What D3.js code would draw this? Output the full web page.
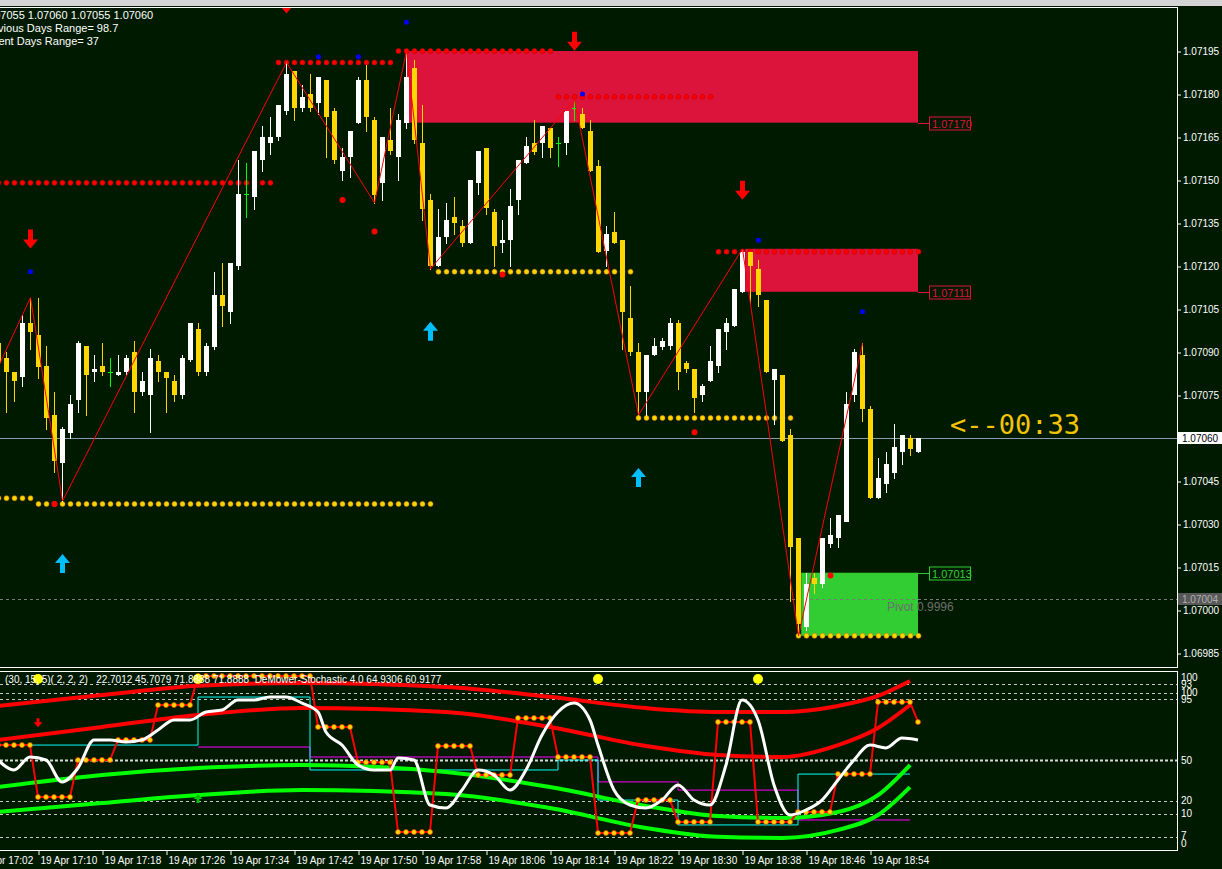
<!DOCTYPE html>
<html>
<head>
<meta charset="utf-8">
<script src="https://cdn.jsdelivr.net/npm/d3@7/dist/d3.min.js"></script>
<style>
html, body { margin: 0; padding: 0; background: #001a00; overflow: hidden; }
svg { display: block; font-family: "Liberation Sans", Arial, sans-serif; }
</style>
</head>
<body>
<svg id="chart" width="1222" height="869"></svg>
<script>
// M1 candles, k = 0 is 19 Apr 17:05
const opens = [1.07093,1.07088,1.07083,1.07081,1.07100,1.07096,1.07085,1.07068,1.07051,1.07062,1.07073,1.07092,1.07083,1.07085,1.07083,1.07082,1.07083,1.07090,1.07076,1.07075,1.07087,1.07083,1.07080,1.07075,1.07087,1.07098,1.07083,1.07092,1.07110,1.07104,1.07120,1.07145,1.07144,1.07157,1.07163,1.07165,1.07174,1.07188,1.07175,1.07180,1.07177,1.07185,1.07174,1.07153,1.07158,1.07170,1.07185,1.07171,1.07149,1.07164,1.07158,1.07170,1.07189,1.07163,1.07143,1.07120,1.07130,1.07137,1.07134,1.07128,1.07149,1.07161,1.07139,1.07128,1.07129,1.07143,1.07156,1.07163,1.07163,1.07168,1.07163,1.07163,1.07175,1.07173,1.07167,1.07155,1.07125,1.07132,1.07129,1.07102,1.07090,1.07076,1.07089,1.07092,1.07092,1.07100,1.07086,1.07084,1.07075,1.07080,1.07085,1.07097,1.07099,1.07111,1.07125,1.07119,1.07108,1.07080,1.07082,1.07061,1.07025,1.06994,1.07011,1.07009,1.07023,1.07025,1.07031,1.07075,1.07089,1.07070,1.07039,1.07044,1.07048,1.07055,1.07060,1.07055];
const highs = [1.07094,1.07090,1.07083,1.07103,1.07109,1.07109,1.07092,1.07076,1.07064,1.07075,1.07094,1.07092,1.07089,1.07093,1.07088,1.07089,1.07089,1.07094,1.07083,1.07091,1.07089,1.07083,1.07082,1.07089,1.07100,1.07100,1.07093,1.07118,1.07121,1.07121,1.07157,1.07156,1.07160,1.07169,1.07172,1.07176,1.07191,1.07188,1.07183,1.07187,1.07186,1.07185,1.07175,1.07161,1.07167,1.07186,1.07190,1.07172,1.07165,1.07175,1.07173,1.07195,1.07192,1.07176,1.07145,1.07140,1.07142,1.07144,1.07136,1.07150,1.07160,1.07161,1.07140,1.07136,1.07147,1.07157,1.07165,1.07171,1.07169,1.07168,1.07165,1.07174,1.07178,1.07175,1.07171,1.07157,1.07134,1.07139,1.07129,1.07113,1.07093,1.07089,1.07095,1.07095,1.07102,1.07101,1.07087,1.07084,1.07079,1.07092,1.07098,1.07102,1.07112,1.07126,1.07125,1.07122,1.07108,1.07084,1.07082,1.07063,1.07025,1.07013,1.07013,1.07025,1.07032,1.07033,1.07076,1.07091,1.07093,1.07071,1.07053,1.07055,1.07065,1.07061,1.07061,1.07060];
const lows = [1.07085,1.07069,1.07073,1.07078,1.07091,1.07081,1.07063,1.07048,1.07038,1.07060,1.07069,1.07068,1.07080,1.07082,1.07078,1.07082,1.07082,1.07069,1.07075,1.07062,1.07080,1.07069,1.07073,1.07074,1.07087,1.07082,1.07082,1.07091,1.07099,1.07100,1.07119,1.07137,1.07140,1.07153,1.07159,1.07164,1.07173,1.07171,1.07174,1.07174,1.07173,1.07158,1.07156,1.07150,1.07151,1.07170,1.07167,1.07142,1.07143,1.07159,1.07150,1.07168,1.07163,1.07136,1.07119,1.07120,1.07128,1.07131,1.07127,1.07128,1.07145,1.07138,1.07120,1.07125,1.07120,1.07138,1.07156,1.07159,1.07158,1.07158,1.07155,1.07159,1.07171,1.07168,1.07153,1.07125,1.07120,1.07128,1.07091,1.07089,1.07068,1.07068,1.07089,1.07091,1.07091,1.07077,1.07083,1.07069,1.07073,1.07080,1.07083,1.07091,1.07099,1.07111,1.07107,1.07106,1.07083,1.07065,1.07059,1.07003,1.06991,1.06993,1.07006,1.07008,1.07022,1.07022,1.07031,1.07073,1.07066,1.07039,1.07039,1.07041,1.07046,1.07051,1.07054,1.07055];
const closes = [1.07086,1.07083,1.07080,1.07100,1.07097,1.07085,1.07067,1.07052,1.07063,1.07072,1.07093,1.07082,1.07084,1.07083,1.07083,1.07083,1.07088,1.07076,1.07080,1.07088,1.07083,1.07081,1.07075,1.07088,1.07100,1.07083,1.07092,1.07110,1.07106,1.07121,1.07145,1.07145,1.07160,1.07165,1.07165,1.07176,1.07187,1.07175,1.07179,1.07175,1.07186,1.07172,1.07157,1.07158,1.07167,1.07185,1.07172,1.07145,1.07165,1.07160,1.07171,1.07186,1.07164,1.07140,1.07120,1.07130,1.07136,1.07135,1.07128,1.07150,1.07160,1.07140,1.07127,1.07129,1.07141,1.07157,1.07162,1.07160,1.07169,1.07161,1.07163,1.07174,1.07175,1.07168,1.07153,1.07125,1.07131,1.07128,1.07104,1.07090,1.07076,1.07089,1.07092,1.07094,1.07100,1.07083,1.07084,1.07074,1.07078,1.07087,1.07098,1.07100,1.07112,1.07125,1.07120,1.07110,1.07083,1.07084,1.07059,1.07022,1.06995,1.07009,1.07009,1.07025,1.07026,1.07033,1.07072,1.07090,1.07070,1.07039,1.07046,1.07051,1.07057,1.07061,1.07056,1.07060];

const priceTicks = [1.06985,1.07000,1.07015,1.07030,1.07045,1.07060,1.07075,1.07090,1.07105,1.07120,1.07135,1.07150,1.07165,1.07180,1.07195];
const timeTicks = [-3,5,13,21,29,37,45,53,61,69,77,85,93,101,109];

// zigzag turning points [k, price]
const zigzag = [[0,1.07085],[4,1.07109],[8,1.07038],[36,1.07191],[47,1.07142],[51,1.07195],[54,1.07119],[72,1.07178],[80,1.07068],[93,1.07126],[100,1.06991],[108,1.07093]];
const downArrows = [4,36,72,93];
const upArrows = [8,54,80];
const blueDots = [[4,1.07118],[40,1.07193],[45,1.07193],[51,1.07205],[73,1.07180],[95,1.07129],[108,1.07104]];
const redDots = [[7,1.07037],[43,1.07143],[47,1.07132],[63,1.07117],[87,1.07062],[104,1.07012]];
// dotted levels [kFrom, kTo, price]
const resistLevels = [[0,34,1.07149],[35,49,1.07191],[50,69,1.07195],[70,89,1.07179],[90,115,1.07125]];
const supportLevels = [[0,4,1.07039],[5,54,1.07037],[55,79,1.07118],[80,99,1.07067],[100,115,1.06991]];
// supply / demand boxes [kFrom, kTo, top, bottom, labelPrice]
const supplyZones = [[51,115,1.07195,1.07170,1.07170],[93.4,115,1.07126,1.07111,1.07111]];
const demandZones = [[100.4,115,1.07013,1.06991,1.07013]];
const lastPrice = 1.07060;
const pivotPrice = 1.07004;

// indicator window
const bandKs = [0,13,25,38,56,69,81,90,98,105,110,114];
const redUpper = [80.7,86.8,92.0,93.6,91.4,85.8,79.5,77.3,77.3,80.7,86.3,94.7];
const redLower = [61.6,68.9,75.6,79.5,77.3,68.9,58.2,53.1,52.0,58.7,68.3,81.2];
const greenUpper = [35.1,41.9,45.8,47.5,43.6,35.1,24.5,18.8,17.7,21.1,30.6,47.5];
const greenLower = [21.1,26.1,30.6,33.4,31.2,23.3,12.1,7.1,6.5,11.0,19.4,35.1];
const stochKs = [0,2,4,6,8,10,12,14,16,18,20,22,24,26,28,30,32,34,36,38,40,41,43,45,47,49,50,52,54,56,58,60,62,64,66,68,70,72,74,75,77,79,81,83,85,87,89,91,93,95,97,99,101,103,105,107,109,111,113,115];
const stoch = [50.3,44.7,52.0,50.3,37.9,45.8,61.6,61.6,60.4,61.6,67.2,72.8,72.8,77.3,78.4,84.0,84.0,85.7,85.7,82.3,77.3,66.0,58.7,47.5,44.7,44.7,51.4,50.3,25.0,23.3,33.4,44.7,41.9,33.4,44.7,64.4,77.3,82.3,72.8,58.7,33.4,25.0,23.3,27.8,36.3,27.8,25.0,47.5,84.0,72.8,36.3,19.4,22.2,27.8,39.1,50.3,58.7,57.1,62.7,61.6];
// step signal [kFrom, kTo, value]
const stepSignal = [[0,4,58.7],[5,9,29.5],[10,14,50.3],[15,19,61.6],[20,24,81.2],[25,39,97.5],[40,44,68.9],[45,49,49.0],[50,54,9.8],[55,59,58.2],[60,64,41.9],[65,69,73.9],[70,74,52.0],[75,79,9.3],[80,84,27.8],[85,89,15.5],[90,94,71.7],[95,99,15.5],[100,104,21.1],[105,109,42.4],[110,114,82.9],[115,115,71.7]];
const cyanSteps = [[0,25,58.7],[25,39,85.7],[39,70,44.7],[70,75,50.3],[75,85,27.8],[85,100,13.8],[100,114,42.4]];
const magentaSteps = [[25,39,57.6],[39,75,52.0],[75,85,38.0],[85,100,33.4],[100,114,16.6]];
const signalDots = [5,25,75,95];
const sellSignals = [[5,71]];
const buySignals = [[25,29]];
const levelsA = [7,93];
const levelsB = [10,20,95,100];
const midLevel = 50;

const svg = d3.select("#chart");
const W = 1222, H = 869, plotRight = 1177;
const mainTop = 7, mainBottom = 667, indTop = 671, indBottom = 850;

svg.append("rect").attr("width", W).attr("height", H).attr("fill", "#001a00");
svg.append("rect").attr("width", W).attr("height", 6).attr("fill", "#d4d4d4");

const x = d3.scaleLinear().domain([0, 115]).range([-2, 918]);
const y = d3.scaleLinear().domain([1.06985, 1.07195]).range([653, 51]);
const yInd = d3.scaleLinear().domain([0, 100]).range([849.5, 671.6]);
const yLvl = d3.scaleLinear().domain([50, 100]).range([760, 692.5]);

const defs = svg.append("defs");
defs.append("clipPath").attr("id", "mainClip").append("rect")
    .attr("x", 0).attr("y", mainTop).attr("width", plotRight).attr("height", mainBottom - mainTop);
defs.append("clipPath").attr("id", "indClip").append("rect")
    .attr("x", 0).attr("y", indTop).attr("width", plotRight).attr("height", indBottom - indTop);

let main = svg.append("g").attr("clip-path", "url(#mainClip)");

// zones
let zones = supplyZones.map(z => ({z, color: "#dc143c", labelAt: z[3]}))
    .concat(demandZones.map(z => ({z, color: "#32cd32", labelAt: z[2]})));
main.selectAll("rect.zone").data(zones).join("rect")
    .attr("x", d => x(d.z[0]))
    .attr("width", d => x(d.z[1]) - x(d.z[0]))
    .attr("y", d => y(d.z[2]))
    .attr("height", d => y(d.z[3]) - y(d.z[2]))
    .attr("fill", d => d.color);

// pivot and last price lines
main.append("line").attr("x1", 0).attr("x2", plotRight)
    .attr("y1", Math.round(y(pivotPrice)) + 0.5).attr("y2", Math.round(y(pivotPrice)) + 0.5)
    .attr("stroke", "#7a7a7a").attr("stroke-dasharray", "3,3");
main.append("text").attr("x", 887).attr("y", Math.round(y(pivotPrice)) + 12)
    .attr("fill", "#6e6e6e").attr("font-size", 12).text("Pivot  0.9996");
main.append("line").attr("x1", 0).attr("x2", plotRight)
    .attr("y1", Math.round(y(lastPrice)) + 0.5).attr("y2", Math.round(y(lastPrice)) + 0.5)
    .attr("stroke", "#8a9bb0");

// dotted levels
function dotLevel(levels, fill, stroke, cls) {
    let pts = [];
    levels.forEach(l => { for (let k = l[0]; k <= l[1]; k++) pts.push([k, l[2]]); });
    main.selectAll("circle." + cls).data(pts).join("circle")
        .attr("cx", d => x(d[0]) + 0.5).attr("cy", d => y(d[1]))
        .attr("r", 2.5).attr("fill", fill).attr("stroke", stroke).attr("stroke-width", 0.6);
}
dotLevel(resistLevels, "#ff0000", "#c00000", "res");
dotLevel(supportLevels, "#ffd700", "#d08000", "sup");

// candles
const candles = opens.map((o, k) => ({k, o, h: highs[k], l: lows[k], c: closes[k]}));
const colorOf = d => d.c > d.o ? "#ffffff" : (d.c < d.o ? "#ffd700" : "#00ff00");
main.selectAll("line.wick").data(candles).join("line")
    .attr("x1", d => x(d.k) + 0.5).attr("x2", d => x(d.k) + 0.5)
    .attr("y1", d => Math.round(y(d.h))).attr("y2", d => Math.round(y(d.l)) + 1)
    .attr("stroke", colorOf).attr("stroke-width", 1);
main.selectAll("rect.body").data(candles.filter(d => d.o !== d.c)).join("rect")
    .attr("x", d => x(d.k) - 2).attr("width", 5)
    .attr("y", d => Math.round(y(Math.max(d.o, d.c))))
    .attr("height", d => Math.max(1, Math.round(Math.abs(y(d.o) - y(d.c)))))
    .attr("fill", colorOf).attr("shape-rendering", "crispEdges");
main.selectAll("line.doji").data(candles.filter(d => d.o === d.c)).join("line")
    .attr("x1", d => x(d.k) - 2).attr("x2", d => x(d.k) + 3)
    .attr("y1", d => Math.round(y(d.c)) + 0.5).attr("y2", d => Math.round(y(d.c)) + 0.5)
    .attr("stroke", "#00ff00");

// zigzag
main.append("path").datum(zigzag)
    .attr("d", d3.line().x(d => x(d[0]) + 0.5).y(d => y(d[1])))
    .attr("fill", "none").attr("stroke", "#ff0000").attr("stroke-width", 1);

// markers
main.selectAll("circle.blue").data(blueDots).join("circle")
    .attr("cx", d => x(d[0]) + 0.5).attr("cy", d => y(d[1])).attr("r", 2.5).attr("fill", "#0000ff");
main.selectAll("circle.red").data(redDots).join("circle")
    .attr("cx", d => x(d[0]) + 0.5).attr("cy", d => y(d[1])).attr("r", 3).attr("fill", "#ff0000");

const arrowDown = "M-2.5,-19 L2.5,-19 L2.5,-9 L7.5,-9 L0,0 L-7.5,-9 L-2.5,-9 Z";
main.selectAll("path.dn").data(downArrows).join("path")
    .attr("d", arrowDown)
    .attr("transform", k => `translate(${x(k) + 0.5},${y(highs[k]) - 49})`)
    .attr("fill", "#ff0000");
main.selectAll("path.up").data(upArrows).join("path")
    .attr("d", arrowDown)
    .attr("transform", k => `translate(${x(k) + 0.5},${y(lows[k]) + 53}) scale(1,-1)`)
    .attr("fill", "#00bfff");

// header texts
const info = main.append("g").attr("fill", "#ffffff").attr("font-size", 11);
info.append("text").attr("x", -15).attr("y", 19).text("1.07055 1.07060 1.07055 1.07060");
info.append("text").attr("x", -19).attr("y", 32).text("Previous Days Range= 98.7");
info.append("text").attr("x", -23).attr("y", 45).text("Current Days Range= 37");

main.append("text").attr("x", 950).attr("y", 434)
    .attr("fill", "#f5c400").attr("font-size", 27).attr("font-family", "DejaVu Sans Mono, monospace")
    .text("<--00:33");

// frames
svg.append("rect").attr("x", -1.5).attr("y", mainTop + 0.5).attr("width", plotRight + 2)
    .attr("height", mainBottom - mainTop).attr("fill", "none").attr("stroke", "#ffffff");

// price axis
const pAxis = svg.append("g").attr("transform", `translate(${plotRight},0)`)
    .call(d3.axisRight(y).tickValues(priceTicks).tickFormat(d3.format(".5f")).tickSize(4).tickPadding(2));
pAxis.select(".domain").remove();
pAxis.selectAll("line").attr("stroke", "#ffffff").attr("transform", "translate(0,0.5)");
pAxis.selectAll("text").attr("fill", "#ffffff").attr("font-size", 10).attr("font-family", "Liberation Sans, Arial");

// price tags on the axis
function tag(price, bg, fg, border) {
    let g = svg.append("g").attr("transform", `translate(${plotRight + 1},${Math.round(y(price))})`);
    g.append("rect").attr("x", 0).attr("y", -6).attr("width", 44).attr("height", 12).attr("fill", bg)
        .attr("stroke", border || "none");
    g.append("text").attr("x", 4).attr("y", 4).attr("fill", fg).attr("font-size", 10).text(d3.format(".5f")(price));
}
tag(lastPrice, "#ffffff", "#000000");
tag(pivotPrice, "#585858", "#b0b0b0");

// zone labels
zones.forEach(d => {
    let yy = Math.round(y(d.labelAt)) + 0.5;
    svg.append("line").attr("x1", x(d.z[1])).attr("x2", 929).attr("y1", yy).attr("y2", yy).attr("stroke", d.color);
    svg.append("rect").attr("x", 929.5).attr("y", yy - 6.5).attr("width", 41).attr("height", 13)
        .attr("fill", "#001a00").attr("stroke", d.color);
    svg.append("text").attr("x", 932).attr("y", yy + 4).attr("fill", d.color).attr("font-size", 11)
        .text(d3.format(".5f")(d.z[4]));
});

// indicator window
let ind = svg.append("g").attr("clip-path", "url(#indClip)");
const lvlA = levelsA.map(v => yInd(v));
const lvlB = levelsB.map(v => yLvl(v));
ind.selectAll("line.lvl").data(lvlA.concat(lvlB)).join("line")
    .attr("x1", 0).attr("x2", plotRight)
    .attr("y1", d => Math.round(d) + 0.5).attr("y2", d => Math.round(d) + 0.5)
    .attr("stroke", "#c8c8c8").attr("stroke-dasharray", "3,3");
ind.append("line").attr("x1", 0).attr("x2", plotRight)
    .attr("y1", Math.round(yLvl(midLevel)) + 0.5).attr("y2", Math.round(yLvl(midLevel)) + 0.5)
    .attr("stroke", "#d8d8d8").attr("stroke-width", 2).attr("stroke-dasharray", "3,2");

const stepLine = steps => {
    let pts = [];
    steps.forEach(s => { pts.push([s[0], s[2]]); pts.push([s[1], s[2]]); });
    return pts;
};
const lineInd = d3.line().x(d => x(d[0])).y(d => yInd(d[1]));
ind.append("path").datum(stepLine(magentaSteps)).attr("d", lineInd)
    .attr("fill", "none").attr("stroke", "#ff00ff").attr("stroke-width", 1);
ind.append("path").datum(stepLine(cyanSteps)).attr("d", lineInd)
    .attr("fill", "none").attr("stroke", "#00ffff").attr("stroke-width", 1);

const curve = d3.line().x(d => x(d[0])).y(d => yInd(d[1])).curve(d3.curveMonotoneX);
[[redUpper, "#ff0000"], [redLower, "#ff0000"], [greenUpper, "#00ff00"], [greenLower, "#00ff00"]].forEach(s => {
    ind.append("path").datum(bandKs.map((k, i) => [k, s[0][i]])).attr("d", curve)
        .attr("fill", "none").attr("stroke", s[1]).attr("stroke-width", 4);
});

ind.append("path").datum(stepLine(stepSignal)).attr("d", lineInd)
    .attr("fill", "none").attr("stroke", "#ff0000").attr("stroke-width", 2);
let sigPts = [];
stepSignal.forEach(s => { for (let k = s[0]; k <= s[1]; k++) sigPts.push([k, s[2]]); });
ind.selectAll("circle.sig").data(sigPts).join("circle")
    .attr("cx", d => x(d[0])).attr("cy", d => yInd(d[1])).attr("r", 2.5)
    .attr("fill", "#ffd700").attr("stroke", "#ff4000").attr("stroke-width", 0.6);

ind.append("path").datum(stochKs.map((k, i) => [k, stoch[i]])).attr("d", curve)
    .attr("fill", "none").attr("stroke", "#ffffff").attr("stroke-width", 3);

// small signal arrows
const smallArrow = "M-1.5,-9 L1.5,-9 L1.5,-5 L4.5,-5 L0,0 L-4.5,-5 L-1.5,-5 Z";
ind.selectAll("path.sell").data(sellSignals).join("path").attr("d", smallArrow)
    .attr("transform", d => `translate(${x(d[0])},${yInd(d[1]) + 4})`).attr("fill", "#ff0000");
ind.selectAll("path.buy").data(buySignals).join("path").attr("d", smallArrow)
    .attr("transform", d => `translate(${x(d[0])},${yInd(d[1]) - 4}) scale(1,-1)`).attr("fill", "#00c000");

ind.selectAll("circle.big").data(signalDots).join("circle")
    .attr("cx", k => x(k)).attr("cy", 679).attr("r", 5).attr("fill", "#ffff00");

ind.append("text").attr("x", 5).attr("y", 683).attr("fill", "#ffffff").attr("font-size", 10)
    .attr("xml:space", "preserve")
    .text("(30, 15, 5)( 2, 2, 2)   22.7012 45.7079 71.8888 71.8888  DeMower-Stochastic 4.0 64.9306 60.9177");

svg.append("rect").attr("x", -1.5).attr("y", indTop + 0.5).attr("width", plotRight + 2)
    .attr("height", indBottom - indTop).attr("fill", "none").attr("stroke", "#ffffff");

// indicator scale labels
const indLabels = [["100", 677], ["93", 684], ["100", 692], ["95", 699], ["50", 760], ["20", 800], ["10", 813], ["7", 835], ["0", 843]];
svg.selectAll("text.il").data(indLabels).join("text")
    .attr("x", 1181).attr("y", d => d[1] + 4).attr("fill", "#ffffff").attr("font-size", 10).text(d => d[0]);

// time axis
const t0 = new Date(2023, 3, 19, 17, 5);
const fmt = d3.timeFormat("%d %b %H:%M");
const tAxis = svg.append("g").attr("transform", `translate(0,${indBottom})`)
    .call(d3.axisBottom(x).tickValues(timeTicks).tickSize(5)
        .tickFormat(k => fmt(d3.timeMinute.offset(t0, k))));
tAxis.select(".domain").remove();
tAxis.selectAll("line").attr("stroke", "#ffffff").attr("transform", "translate(0.5,0)");
tAxis.selectAll("text").attr("fill", "#ffffff").attr("font-size", 10)
    .attr("text-anchor", "start").attr("dx", 2).attr("y", 7);
</script>
</body>
</html>
